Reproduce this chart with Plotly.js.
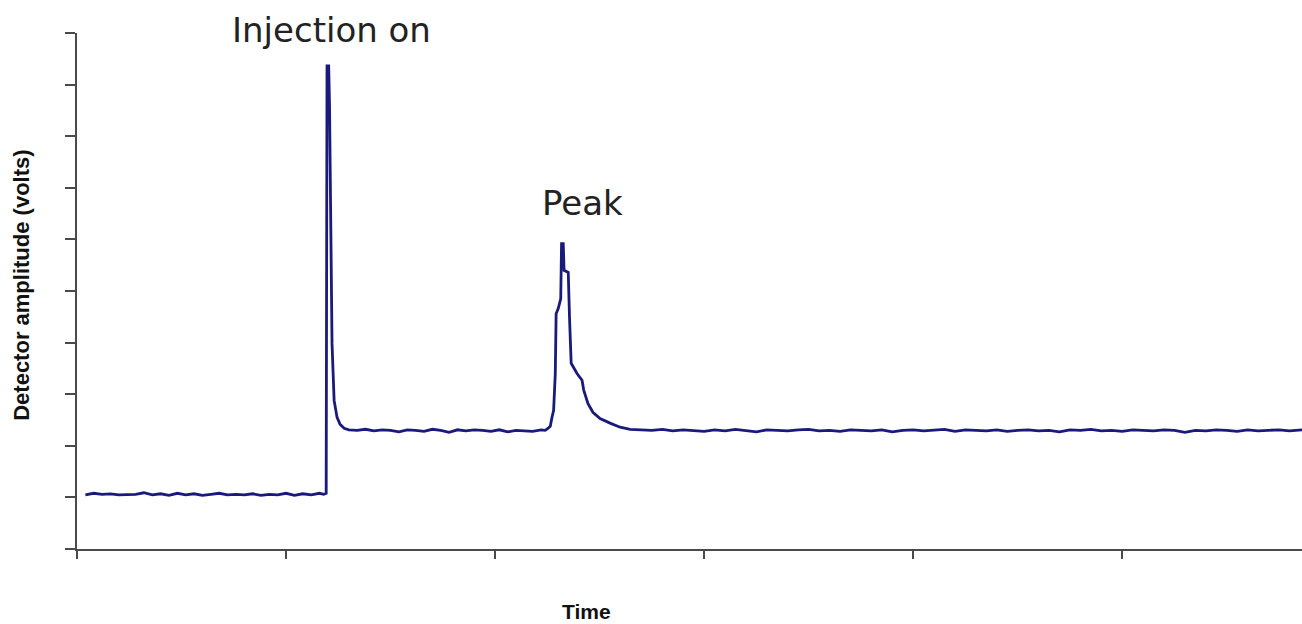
<!DOCTYPE html>
<html>
<head>
<meta charset="utf-8">
<script src="https://cdn.plot.ly/plotly-3.0.1.min.js"></script>
<style>html,body{margin:0;padding:0;background:#fff;}#chart{width:1302px;height:624px;}</style>
</head>
<body>
<div id="chart"></div>
<script>
// Time (arbitrary minutes) and detector amplitude (volts)
const timeBase1 = [0.2,0.4,0.6,0.8,1.0,1.2,1.4,1.6,1.8,2.0,2.2,2.4,2.6,2.8,3.0,3.2,3.4,3.6,3.8,4.0,4.2,4.4,4.6,4.8,5.0,5.2,5.4,5.6,5.8,5.9];
const ampBase1  = [1.05,1.08,1.06,1.07,1.05,1.06,1.06,1.09,1.05,1.07,1.04,1.08,1.05,1.07,1.04,1.06,1.08,1.05,1.06,1.05,1.07,1.04,1.06,1.05,1.08,1.04,1.07,1.05,1.08,1.06];

const timeSpike = [5.96,5.98,6.02,6.04,6.07,6.10,6.15,6.22,6.29,6.39];
const ampSpike  = [1.08,9.36,9.36,8.59,6.81,3.98,2.88,2.55,2.42,2.34];

const timeBase2 = [6.5,6.7,6.9,7.1,7.3,7.5,7.7,7.9,8.1,8.3,8.5,8.7,8.9,9.1,9.3,9.5,9.7,9.9,10.1,10.3,10.5,10.7,10.9,11.1,11.2];
const ampBase2  = [2.31,2.30,2.32,2.29,2.31,2.30,2.27,2.31,2.30,2.28,2.32,2.30,2.26,2.31,2.29,2.31,2.30,2.28,2.31,2.27,2.30,2.29,2.28,2.31,2.30];

const timePeak = [11.27,11.32,11.36,11.40,11.44,11.46,11.51,11.57,11.59,11.63,11.65,11.75,11.78,11.82,11.96,12.08,12.12,12.22,12.34,12.51,12.75,12.99,13.23];
const ampPeak  = [2.34,2.38,2.55,2.69,3.40,4.56,4.66,4.85,5.92,5.92,5.40,5.36,4.49,3.60,3.40,3.27,3.08,2.82,2.65,2.53,2.44,2.36,2.32];

const timeBase3 = [13.5,13.75,14,14.25,14.5,14.75,15,15.25,15.5,15.75,16,16.25,16.5,16.75,17,17.25,17.5,17.75,18,18.25,18.5,18.75,19,19.25,19.5,19.75,20,20.25,20.5,20.75,21,21.25,21.5,21.75,22,22.25,22.5,22.75,23,23.25,23.5,23.75,24,24.25,24.5,24.75,25,25.25,25.5,25.75,26,26.25,26.5,26.75,27,27.25,27.5,27.75,28,28.25,28.5,28.75,29,29.25,29.3];
const ampBase3  = [2.31,2.30,2.32,2.29,2.31,2.30,2.28,2.31,2.29,2.32,
                   2.30,2.27,2.31,2.30,2.29,2.31,2.32,2.29,2.30,2.28,
                   2.31,2.30,2.29,2.31,2.27,2.30,2.31,2.29,2.30,2.32,
                   2.28,2.31,2.30,2.29,2.31,2.28,2.30,2.31,2.29,2.30,
                   2.27,2.31,2.30,2.32,2.29,2.30,2.28,2.31,2.30,2.29,
                   2.31,2.30,2.26,2.30,2.29,2.31,2.30,2.28,2.31,2.29,
                   2.30,2.31,2.29,2.30,2.31];

const xTickVals = [0,5,10,15,20,25];
const yTickVals = [0,1,2,3,4,5,6,7,8,9,10];

const labelInjection = "Injection on";
const labelPeak = "Peak";
const yTitle = "Detector amplitude (volts)";
const xTitle = "Time";

const time = [].concat(timeBase1, timeSpike, timeBase2, timePeak, timeBase3);
const amp  = [].concat(ampBase1, ampSpike, ampBase2, ampPeak, ampBase3);

const trace = {
  x: time, y: amp, type: 'scatter', mode: 'lines',
  line: {color: '#1a1a7c', width: 2.8},
  hoverinfo: 'skip'
};

const axisCommon = {
  showgrid: false, zeroline: false, showline: true,
  linecolor: '#4a4a4a', linewidth: 2,
  ticks: 'outside', tickcolor: '#4a4a4a', tickwidth: 2,
  showticklabels: false, fixedrange: true
};

const labelFont = {family: 'DejaVu Sans, Liberation Sans, sans-serif', size: 34, color: '#222'};

const layout = {
  width: 1302, height: 624,
  margin: {l: 77, r: 0, t: 33, b: 75},
  paper_bgcolor: '#ffffff', plot_bgcolor: '#ffffff',
  showlegend: false,
  xaxis: Object.assign({}, axisCommon, {range: [0, 29.3], tickmode: 'array', tickvals: xTickVals, ticklen: 8}),
  yaxis: Object.assign({}, axisCommon, {range: [0, 10], tickmode: 'array', tickvals: yTickVals, ticklen: 10}),
  annotations: [
    {text: labelInjection, xref: 'paper', yref: 'paper', x: 0.208, y: 1.005, showarrow: false,
     xanchor: 'center', yanchor: 'middle', font: labelFont},
    {text: labelPeak, xref: 'paper', yref: 'paper', x: 0.413, y: 0.670, showarrow: false,
     xanchor: 'center', yanchor: 'middle', font: labelFont},
    {text: '<b>' + yTitle + '</b>', xref: 'paper', yref: 'paper', x: -0.0449, y: 0.512, textangle: -90,
     showarrow: false, xanchor: 'center', yanchor: 'middle',
     font: {family: 'Liberation Sans, Arial, sans-serif', size: 22, color: '#111'}},
    {text: '<b>' + xTitle + '</b>', xref: 'paper', yref: 'paper', x: 0.416, y: -0.122,
     showarrow: false, xanchor: 'center', yanchor: 'middle',
     font: {family: 'Liberation Sans, Arial, sans-serif', size: 21, color: '#111'}}
  ]
};

Plotly.newPlot('chart', [trace], layout, {displayModeBar: false, staticPlot: true});
</script>
</body>
</html>
